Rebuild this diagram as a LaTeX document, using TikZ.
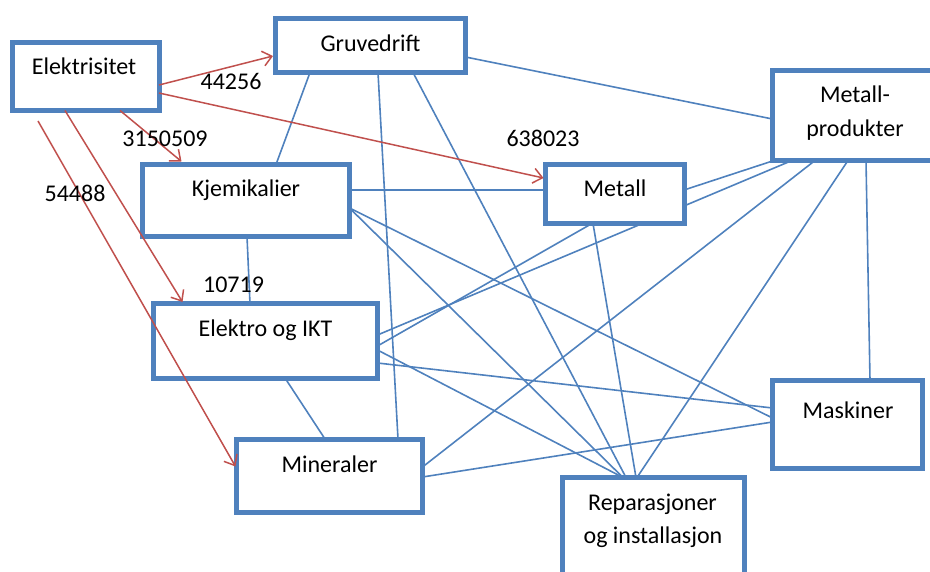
\documentclass[tikz,border=0pt]{standalone}
\usepackage{fontspec}
\setmainfont{Carlito}
\usetikzlibrary{arrows.meta,calc}
\definecolor{obl}{HTML}{4F81BD}
\definecolor{ored}{HTML}{C0504D}
\begin{document}
\begin{tikzpicture}[x=1pt,y=-1pt,
  box/.style={draw=obl,line width=5pt,fill=white,inner sep=0pt,outer sep=0pt,rectangle},
  txt/.style={inner sep=0pt,anchor=base,font=\fontsize{24}{34}\selectfont},
  link/.style={draw=obl,line width=1.6pt},
  flow/.style={draw=ored,line width=1.5pt,-{Straight Barb[length=9pt,width=15pt,line width=1.5pt]}}]
\useasboundingbox (0,0) rectangle (930,572);
\clip (0,0) rectangle (930,572);
% box positions (invisible placeholders for naming before drawing lines)
\path
  (85.75,76.5)   node[box,draw=none,fill=none,minimum width=146.5pt,minimum height=68pt] (ele) {}
  (370.5,45.5)   node[box,draw=none,fill=none,minimum width=190pt,minimum height=54pt] (gru) {}
  (246,200.5)    node[box,draw=none,fill=none,minimum width=207pt,minimum height=72pt] (kje) {}
  (614.75,194)   node[box,draw=none,fill=none,minimum width=138.5pt,minimum height=59pt] (met) {}
  (856.25,115.5) node[box,draw=none,fill=none,minimum width=167.5pt,minimum height=90pt] (mp) {}
  (265.25,341)   node[box,draw=none,fill=none,minimum width=224.5pt,minimum height=74pt] (eik) {}
  (329.5,475.75) node[box,draw=none,fill=none,minimum width=186pt,minimum height=73.5pt] (min) {}
  (847.5,424)    node[box,draw=none,fill=none,minimum width=150pt,minimum height=88pt] (mas) {}
  (653.25,533.75) node[box,draw=none,fill=none,minimum width=181.5pt,minimum height=112.5pt] (rep) {};
% blue connectors
\draw[link] ([xshift=34.5pt]gru.south west) -- ([xshift=133.5pt]kje.north west);
\draw[link] ([xshift=102.5pt]gru.south west) -- ([xshift=161.5pt]min.north west);
\draw[link] ([xshift=137.5pt]gru.south west) -- ([xshift=63.5pt]rep.north west);
\draw[link] ([yshift=-38.5pt]gru.north east) -- ([yshift=-48.5pt]mp.north west);
\draw[link] ([yshift=-25.5pt]kje.north east) -- ([yshift=-25.5pt]met.north west);
\draw[link] ([yshift=-43.5pt]kje.north east) -- ([yshift=-38pt]mas.north west);
\draw[link] ([yshift=-43.5pt]kje.north east) -- ([xshift=60.5pt]rep.north west);
\draw[link] ([xshift=104.5pt]kje.south west) -- ([xshift=97pt]eik.north west);
\draw[link] ([yshift=-25.5pt]met.north east) -- ([xshift=1.5pt]mp.south west);
\draw[link] ([xshift=19.5pt]mp.south west) -- ([yshift=-31pt]eik.north east);
\draw[link] ([xshift=46.5pt]met.south west) -- ([yshift=-42pt]eik.north east);
\draw[link] ([xshift=47.5pt]met.south west) -- ([xshift=73.5pt]rep.north west);
\draw[link] ([xshift=42.5pt]mp.south west) -- ([yshift=-28pt]min.north east);
\draw[link] ([xshift=75.5pt]mp.south west) -- ([xshift=74.5pt]rep.north west);
\draw[link] ([xshift=93.5pt]mp.south west) -- ([xshift=97.5pt]mas.north west);
\draw[link] ([yshift=-46pt]eik.north east) -- ([xshift=60.5pt]rep.north west);
\draw[link] ([yshift=-59pt]eik.north east) -- ([yshift=-28pt]mas.north west);
\draw[link] ([xshift=132pt]eik.south west) -- ([xshift=88.5pt]min.north west);
\draw[link] ([yshift=-38pt]min.north east) -- ([yshift=-42pt]mas.north west);
% boxes drawn on top
\foreach \b in {ele,gru,kje,met,mp,eik,min,mas,rep}{
  \draw[obl,line width=5pt,fill=white] (\b.north west) rectangle (\b.south east);
}
% texts
\node[txt] (tele) at (84,75) {Elektrisitet};
\node[txt] (tgru) at (370.5,51.5) {Gruvedrift};
\node[txt] (tkje) at (246,197) {Kjemikalier};
\node[txt] (tmet) at (615,197) {Metall};
\node[txt] (tmp1) at (855,102.5) {Metall-};
\node[txt] (tmp2) at (855,136.5) {produkter};
\node[txt] (teik) at (265.5,337) {Elektro og IKT};
\node[txt] (tmin) at (329.5,472.5) {Mineraler};
\node[txt] (tmas) at (848,418) {Maskiner};
\node[txt] (trep1) at (652.5,510) {Reparasjoner};
\node[txt] (trep2) at (653,543.5) {og installasjon};
% red flows
\coordinate (e5) at (38,121);
\draw[flow] ([yshift=-42.5pt]ele.north east) -- ([xshift=-2.5pt,yshift=-37.5pt]gru.north west);
\draw[flow] ([yshift=-50.5pt]ele.north east) -- ([xshift=-2pt,yshift=-13.5pt]met.north west);
\draw[flow] ([xshift=107.5pt]ele.south west) -- ([xshift=39pt,yshift=3pt]kje.north west);
\draw[flow] ([xshift=52.5pt]ele.south west) -- ([xshift=29.5pt,yshift=2pt]eik.north west);
\draw[flow] (e5) -- ([xshift=-1pt,yshift=-27.5pt]min.north west);
% labels
\node[txt] (l1) at (231,90) {44256};
\node[txt] (l2) at (543,146.5) {638023};
\node[txt] (l3) at (165,146.5) {3150509};
\node[txt] (l4) at (233.5,292.5) {10719};
\node[txt] (l5) at (75,202) {54488};
\end{tikzpicture}
\end{document}
